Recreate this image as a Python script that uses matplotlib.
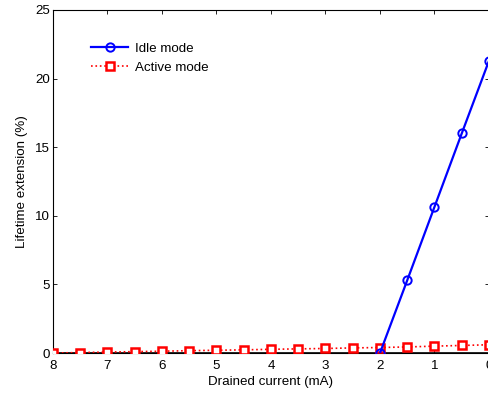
import matplotlib.pyplot as plt

current_idle = [2, 1.5, 1, 0.5, 0]
idle_ext = [0.0, 5.3, 10.65, 16.0, 21.3]

current_active = [8, 7.5, 7, 6.5, 6, 5.5, 5, 4.5, 4, 3.5, 3, 2.5, 2, 1.5, 1, 0.5, 0]
active_ext = [0.0, 0.03, 0.07, 0.1, 0.13, 0.17, 0.2, 0.23, 0.27, 0.3, 0.33, 0.37,
              0.4, 0.44, 0.5, 0.55, 0.6]

plt.rcParams['font.family'] = ['Liberation Sans', 'DejaVu Sans']
plt.rcParams['font.size'] = 9.6

fig = plt.figure(figsize=(4.88, 3.93), dpi=100)
ax = fig.add_axes([53 / 488, 40 / 393, 1 - 53 / 488 + 0.002, 343 / 393])

ax.plot(current_idle, idle_ext, '-o', color='blue', lw=1.6, ms=6,
        mfc='none', mew=1.4, label='Idle mode', zorder=4)
ax.plot(current_active, active_ext, ':s', color='red', lw=1.2, ms=5.5,
        mfc='white', mew=1.8, label='Active mode', zorder=3)
ax.axhline(0, color='black', lw=1.2, zorder=2)

ax.set_xlim(8, 0)
ax.set_ylim(0, 25)
ax.set_xticks(range(8, -1, -1))
ax.set_yticks(range(0, 26, 5))
ax.tick_params(direction='in', top=True, right=True, length=3, width=0.6)
ax.tick_params(axis='x', pad=5)
ax.tick_params(axis='y', pad=2)
for s in ax.spines.values():
    s.set_linewidth(0.8)
ax.set_xlabel('Drained current (mA)', labelpad=3)
ax.set_ylabel('Lifetime extension (%)', labelpad=5)
ax.legend(loc='upper left', bbox_to_anchor=(0.075, 0.92), frameon=False,
          handlelength=2.8, handletextpad=0.5, labelspacing=0.5, borderaxespad=0)

fig.savefig('out.png', dpi=100)
